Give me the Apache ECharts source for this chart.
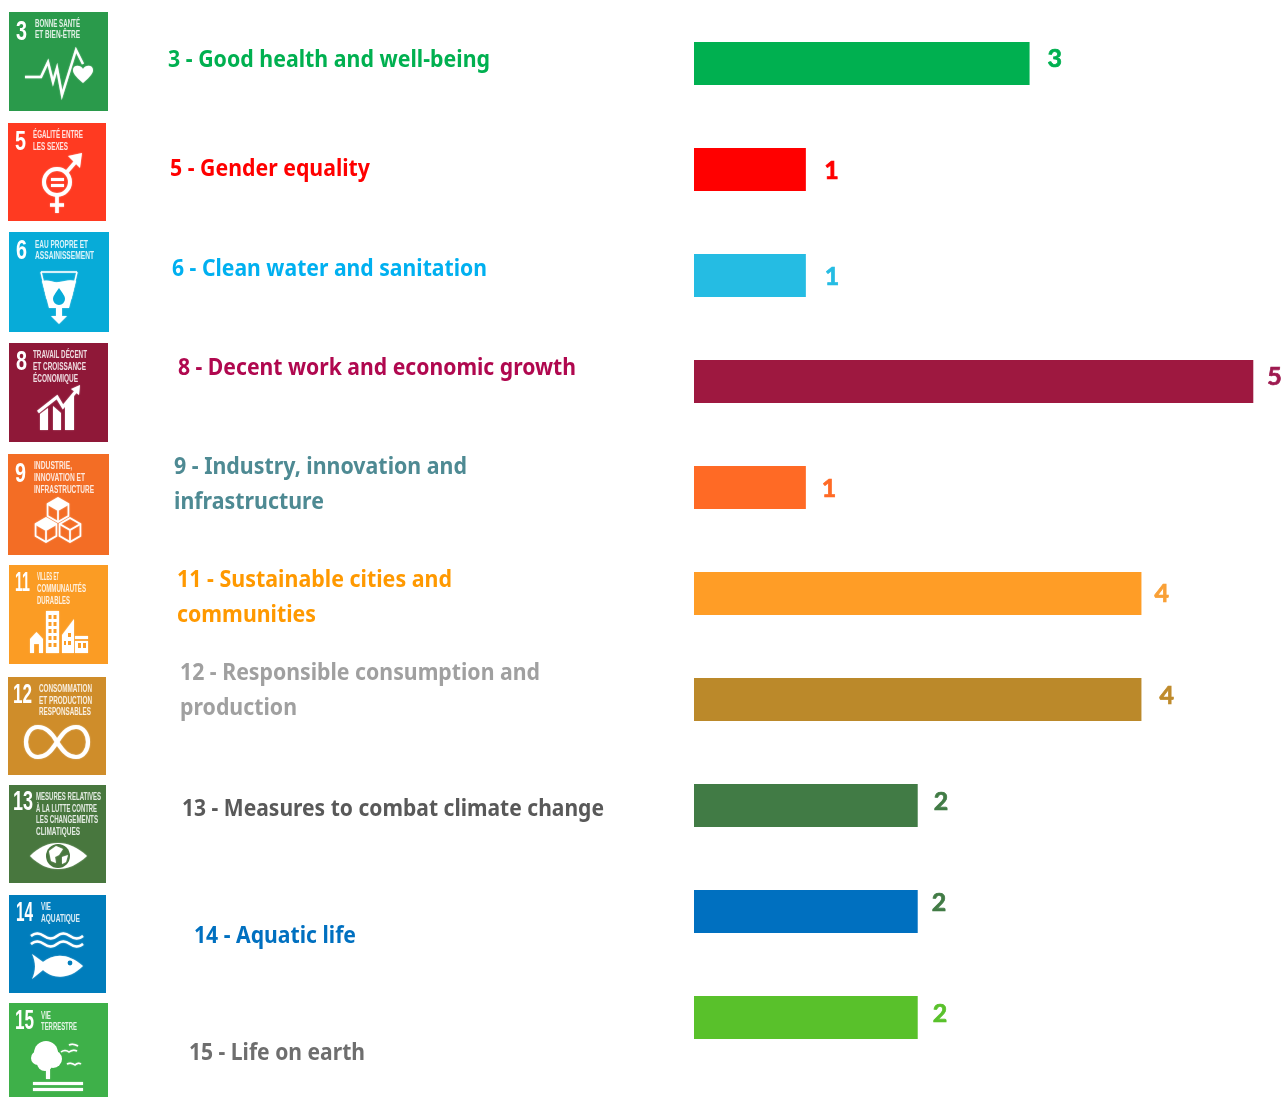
<!DOCTYPE html>
<html>
<head>
<meta charset="utf-8">
<style>html,body{margin:0;padding:0;background:#fff}#chart{width:1286px;height:1097px}</style>
<script src="https://cdn.jsdelivr.net/npm/echarts@6/dist/echarts.min.js"></script>
</head>
<body>
<div id="chart"></div>
<script>
// Sustainable Development Goals addressed, with the number of items per goal.
const goalNumbers = ['3', '5', '6', '8', '9', '11', '12', '13', '14', '15'];
const goalLabels = [
  ['3 - Good health and well-being'],
  ['5 - Gender equality'],
  ['6 - Clean water and sanitation'],
  ['8 - Decent work and economic growth'],
  ['9 - Industry, innovation and', 'infrastructure'],
  ['11 - Sustainable cities and', 'communities'],
  ['12 - Responsible consumption and', 'production'],
  ['13 - Measures to combat climate change'],
  ['14 - Aquatic life'],
  ['15 - Life on earth']
];
const goalValues = [3, 1, 1, 5, 1, 4, 4, 2, 2, 2];
const tileCaptions = [
  ['BONNE SANTÉ', 'ET BIEN-ÊTRE'],
  ['ÉGALITÉ ENTRE', 'LES SEXES'],
  ['EAU PROPRE ET', 'ASSAINISSEMENT'],
  ['TRAVAIL DÉCENT', 'ET CROISSANCE', 'ÉCONOMIQUE'],
  ['INDUSTRIE,', 'INNOVATION ET', 'INFRASTRUCTURE'],
  ['VILLES ET', 'COMMUNAUTÉS', 'DURABLES'],
  ['CONSOMMATION', 'ET PRODUCTION', 'RESPONSABLES'],
  ['MESURES RELATIVES', 'À LA LUTTE CONTRE', 'LES CHANGEMENTS', 'CLIMATIQUES'],
  ['VIE', 'AQUATIQUE'],
  ['VIE', 'TERRESTRE']
];

// Palette per goal.
const barColors = ['#00B050', '#FF0000', '#25BCE3', '#9E1840', '#FF6A25', '#FF9D26', '#BB892A', '#417B45', '#0070C0', '#59C12B'];
const valueColors = ['#00B050', '#FF0000', '#25BCE3', '#9E1A50', '#FF6A25', '#F9A036', '#BF8B2C', '#417B45', '#417B45', '#59C12B'];
const labelColors = ['#00B050', '#FF0000', '#00B0F0', '#B0084F', '#4E8A93', '#FF9900', '#A0A0A0', '#595959', '#0070C0', '#6E6E6E'];
const tileColors = ['#2A9A4B', '#FF3A21', '#07ABD8', '#8F1838', '#F36D25', '#FB9C24', '#CF8D2A', '#48773E', '#007DBC', '#3EB049'];

// Free-floating layout of the left column.
const labelPos = [[168, 60.5], [170, 169.5], [172, 269.5], [178, 368.5], [174, 467.5], [177, 580.5], [180, 673.5], [182, 809.5], [194, 936.5], [189, 1053.5]];
const labelWidths = [[322], [200], [315], [398], [293, 150], [275, 139], [360, 117], [422], [162], [176]];
const valueNudge = [[18, -4.5], [18.5, 1], [19, 1], [14, -4.5], [16, 1], [13, 0.5], [18, -4], [16, -3.5], [14, -9], [15, -4]];
const tileBox = [[9, 12, 99, 99], [8, 123, 98, 98], [9, 232, 100, 100], [9, 343, 99, 99], [8, 454, 101, 101], [9, 565, 99, 99], [8, 677, 98, 98], [9, 785, 97, 98], [9, 895, 97, 98], [9, 1003, 99, 94]];
const numberBox = [[16, 32, 11], [15, 142, 11], [16, 251, 11], [16, 362, 11], [15, 474, 11], [15, 583, 15], [13, 695, 19], [13, 802, 20], [16, 913, 17], [15, 1021, 19]];
const captionX = [35, 33, 35, 33, 34, 37, 39, 36, 41, 41];
const captionY = [[24, 35], [135, 147], [245, 256], [355, 367, 379], [466, 478, 490], [577, 589, 601], [689, 701, 712], [797, 809, 820, 832], [907, 919], [1016, 1027]];
const captionW = [[45, 45], [50, 35], [53, 59], [54, 53, 45], [38, 51, 60], [22, 49, 33], [53, 53, 52], [65, 61, 62, 44], [10, 39], [10, 36]];

const LABEL_FONT = 'bold 23px "Noto Sans"';
const LINE_HEIGHT = 35;

const measureCtx = document.createElement('canvas').getContext('2d');
function textWidth(text, font) {
  measureCtx.font = font;
  return measureCtx.measureText(text).width;
}

// Text stretched horizontally to occupy a given width.
function fittedText(text, x, y, width, font, style) {
  return {
    type: 'text', x, y, scaleX: width / textWidth(text, font), silent: true,
    style: { text, font, textAlign: 'left', verticalAlign: 'middle', ...style }
  };
}
const tileTextStyle = (opacity) => ({ fill: '#fff', opacity, shadowBlur: 1.5, shadowColor: 'rgba(255,255,255,0.7)' });

// The graphic component has no generic path element, so each outline becomes a registered shape.
let shapeCount = 0;
function pathType(d) {
  const name = 'sdgShape' + (shapeCount++);
  echarts.graphic.registerShape(name, echarts.graphic.extendPath(d, {}));
  return name;
}
const soft = { shadowBlur: 1.5, shadowColor: 'rgba(255,255,255,0.6)' };
const line = (d, w) => ({ type: pathType(d), shape: {}, silent: true, style: { fill: 'none', stroke: '#fff', lineWidth: w, lineJoin: 'miter', ...soft } });
const solid = (d, c) => ({ type: pathType(d), shape: {}, silent: true, style: { fill: c || '#fff', ...(c ? {} : soft) } });
const disc = (cx, cy, r, c) => ({ type: 'circle', shape: { cx, cy, r }, silent: true, style: { fill: c || '#fff' } });

function cube(cx, cy, r) {
  const h = r * 0.87, q = r / 2;
  return [
    line(`M${cx} ${cy - r}L${cx + h} ${cy - q}L${cx + h} ${cy + q}L${cx} ${cy + r}L${cx - h} ${cy + q}L${cx - h} ${cy - q}Z`, 1.6),
    line(`M${cx - h} ${cy - q}L${cx} ${cy}L${cx + h} ${cy - q}M${cx} ${cy}L${cx} ${cy + r}`, 1.6)
  ];
}

// Pictogram of each goal, in coordinates local to its tile.
const pictograms = [
  () => [
    line('M16 65L32 65L39 50L44 70L48 56L53 83L67 38L74 52', 2.4),
    solid('M74 71C66 64 64 61 64 58C64 53 71 52 74 57C77 52 84 53 84 58C84 61 82 64 74 71Z')
  ],
  () => [
    { type: 'circle', shape: { cx: 49, cy: 59, r: 13 }, silent: true, style: { fill: 'none', stroke: '#fff', lineWidth: 4, ...soft } },
    line('M58 50L70 36', 3.6),
    solid('M60 33L74 30L72 45L68 41L64 37Z'),
    solid('M43 55H56V58H43ZM43 61H56V64H43Z'),
    line('M49 72V90M42 82H56', 3.6)
  ],
  () => [
    line('M32 40H68', 1.6),
    line('M32 40L38 66H62L68 40', 1.4),
    solid('M33 49C40 47 44 51 50 50C56 49 60 47 67 49L60 76H40Z'),
    solid('M47 76H53V84H58L50 92L42 84H47Z'),
    solid('M50 56C46 62 44 64 44 67A6 6 0 0 0 56 67C56 64 54 62 50 56Z', tileColors[2])
  ],
  () => [
    solid('M31 87V71L39 65V87ZM44 87V63L52 70V87ZM56 87V62L65 52V87Z'),
    line('M29 69L48 54L54 64L68 47', 3),
    solid('M62 46L71 42L70 52Z')
  ],
  () => [...cube(50, 56, 12), ...cube(38, 76, 12), ...cube(62, 76, 12), solid('M38 64L48 70L38 76L28 70Z'), solid('M50 44L60 50L50 56L40 50Z')],
  () => [
    solid('M21 74L27.5 67L34 74V88H30V79H25V88H21Z'),
    solid('M37 46H50V88H37Z'),
    solid('M53 88V70L65 54V88Z'),
    solid('M66 71H79V74H66ZM66 76H79V88H66Z'),
    ...[50, 57, 64, 71, 78].map((y) => solid(`M39.5 ${y}H42.5V${y + 4}H39.5ZM44.5 ${y}H47.5V${y + 4}H44.5Z`, tileColors[5])),
    solid('M59 68H62V72H59ZM59 76H62V80H59ZM55 76H57V80H55ZM69 78H72V83H69ZM74 78H77V83H74Z', tileColors[5])
  ],
  () => [
    line('M49 65C42 52 35 50 30 50C22 50 18 58 18 65C18 72 22 80 30 80C37 80 42 76 49 65C56 54 61 50 68 50C76 50 80 58 80 65C80 72 76 80 68 80C61 80 56 76 49 65', 4.2)
  ],
  () => [
    solid('M21 71C30 62 39 58 49 58C59 58 68 62 78 71C68 80 59 84 49 84C39 84 30 80 21 71Z'),
    disc(49, 71, 12, tileColors[7]),
    solid('M40 66L47 61L54 64L50 70L46 72L47 78L42 76ZM53 72L59 70L57 77L53 79Z')
  ],
  () => [
    line('M22 41Q28 36 35 41T48 41T61 41T74 41', 2.4),
    line('M22 49Q28 44 35 49T48 49T61 49T74 49', 2.4),
    solid('M23 59L34 67C44 59 58 57 74 71C60 85 44 84 34 75L23 84C27 76 27 67 23 59Z'),
    disc(61, 68, 2.4, tileColors[8])
  ],
  () => [
    disc(37, 50, 12), disc(29, 55, 7), disc(44, 56, 9), disc(36, 60, 8),
    solid('M37 65H41V76H37Z'),
    solid('M24 79H74V82H24ZM24 85H74V88H24Z'),
    line('M52 49Q56 46 60 49Q64 46 68 48M60 42Q64 40 69 43M58 61Q62 59 66 62Q69 59 72 61', 1.5)
  ]
];

const graphics = [];
goalNumbers.forEach((num, i) => {
  const [tx, ty, tw, th] = tileBox[i];
  graphics.push({ type: 'rect', shape: { x: tx, y: ty, width: tw, height: th }, silent: true, style: { fill: tileColors[i] } });
  const [nx, ny, nw] = numberBox[i];
  graphics.push(fittedText(num, nx, ny, nw, 'bold 28px "Liberation Sans"', tileTextStyle(1)));
  tileCaptions[i].forEach((cap, k) => {
    graphics.push(fittedText(cap, captionX[i], captionY[i][k], captionW[i][k], 'bold 10px "Liberation Sans"', tileTextStyle(0.85)));
  });
  graphics.push({ type: 'group', x: tx, y: ty, children: pictograms[i]() });
  goalLabels[i].forEach((text, k) => {
    graphics.push(fittedText(text, labelPos[i][0], labelPos[i][1] + k * LINE_HEIGHT, labelWidths[i][k], LABEL_FONT, { fill: labelColors[i] }));
  });
});

const chart = echarts.init(document.getElementById('chart'), null, { renderer: 'canvas' });
chart.setOption({
  animation: false,
  backgroundColor: '#fff',
  grid: { left: 694, top: 10.5, width: 559.3, height: 1060 },
  xAxis: { type: 'value', min: 0, max: 5, show: false },
  yAxis: { type: 'category', inverse: true, data: goalNumbers, show: false },
  series: [{
    type: 'bar',
    barWidth: 43,
    data: goalValues.map((value, i) => ({
      value,
      itemStyle: { color: barColors[i] },
      label: { color: valueColors[i], offset: valueNudge[i], textBorderColor: valueColors[i], textBorderWidth: 0.7 }
    })),
    label: { show: true, position: 'right', distance: 0, fontFamily: 'Lato', fontWeight: 'bold', fontSize: 25 }
  }],
  graphic: { elements: graphics }
});
</script>
</body>
</html>
